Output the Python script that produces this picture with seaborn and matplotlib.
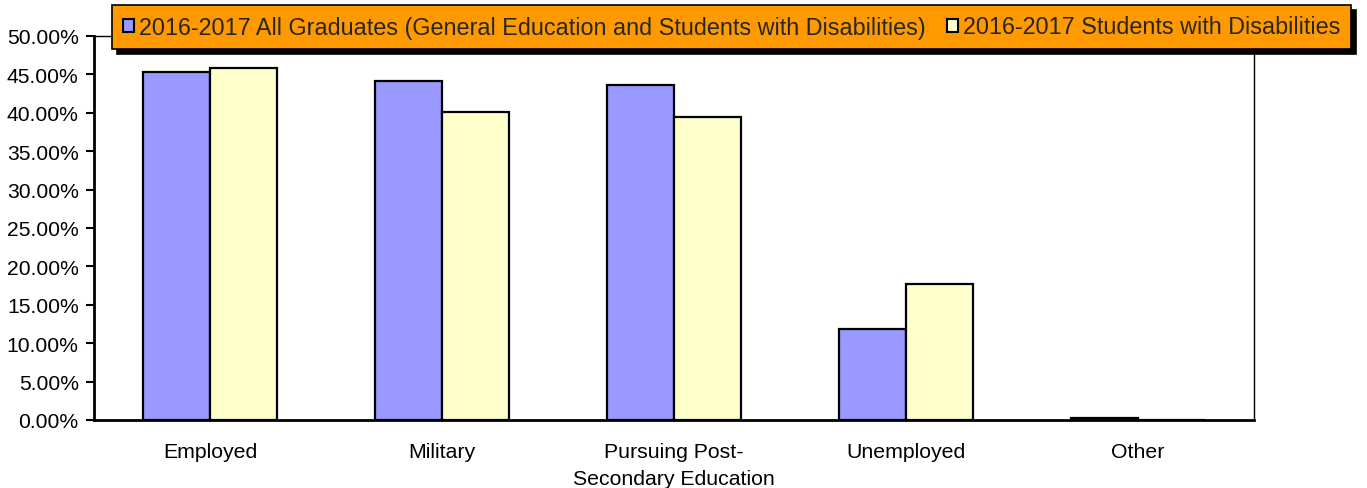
import matplotlib
matplotlib.use("Agg")
import matplotlib.pyplot as plt
import seaborn as sns
import pandas as pd
from matplotlib.ticker import PercentFormatter

categories = ["Employed", "Military", "Pursuing Post-\nSecondary Education", "Unemployed", "Other"]
series_names = ["2016-2017 All Graduates (General Education and Students with Disabilities)",
                "2016-2017 Students with Disabilities"]
all_grads = [45.3, 44.1, 43.6, 11.8, 0.2]
swd = [45.8, 40.1, 39.4, 17.7, 0.0]
yticks = [0, 5, 10, 15, 20, 25, 30, 35, 40, 45, 50]

df = pd.DataFrame({
    "category": categories * 2,
    "series": [series_names[0]] * 5 + [series_names[1]] * 5,
    "value": all_grads + swd,
})

sns.set_style("white")
plt.rcParams['font.family'] = ['Liberation Sans', 'DejaVu Sans']

fig = plt.figure(figsize=(13.67, 4.89), dpi=100)
ax = fig.add_axes([94/1367, 1 - 421/489, (1254-94)/1367, (421-37)/489])

sns.barplot(data=df, x="category", y="value", hue="series",
            palette=["#9999FF", "#FFFFCC"], saturation=1, edgecolor="black", linewidth=1.6,
            width=0.58, gap=0, ax=ax, legend=True)

ax.set_ylim(0, 50)
ax.set_xlim(-0.5, 4.5)
ax.set_yticks(yticks)
ax.yaxis.set_major_formatter(PercentFormatter(decimals=2))
ax.set_xlabel("")
ax.set_ylabel("")
ax.tick_params(axis='y', which='major', direction='out', length=6, width=1.5,
               labelsize=15.2, left=True, pad=5, color='black')
ax.tick_params(axis='x', length=0, labelsize=15.3, pad=16)
for t in ax.get_xticklabels():
    t.set_linespacing(1.5)
for t in ax.get_xticklabels() + ax.get_yticklabels():
    t.set_color('black')
for side in ['left', 'bottom']:
    ax.spines[side].set_linewidth(2)
    ax.spines[side].set_color('black')
for side in ['right', 'top']:
    ax.spines[side].set_linewidth(1)
    ax.spines[side].set_color('black')

leg = ax.legend(loc='upper left', bbox_to_anchor=(112/1367, 1 - 6/489),
                bbox_transform=fig.transFigure, ncol=2, frameon=True,
                fontsize=16.8, fancybox=False,
                shadow={'color': 'black', 'alpha': 1, 'ox': 3.5, 'oy': -3.5},
                borderpad=0.45, handlelength=0.5, handleheight=0.5,
                handletextpad=0.2, columnspacing=0.9, borderaxespad=0)
frame = leg.get_frame()
frame.set_facecolor('#FF9900')
frame.set_edgecolor('black')
frame.set_linewidth(1.2)
frame.set_alpha(1)
for h in leg.legend_handles:
    h.set_linewidth(1.5)

fig.savefig("out.png", dpi=100)
